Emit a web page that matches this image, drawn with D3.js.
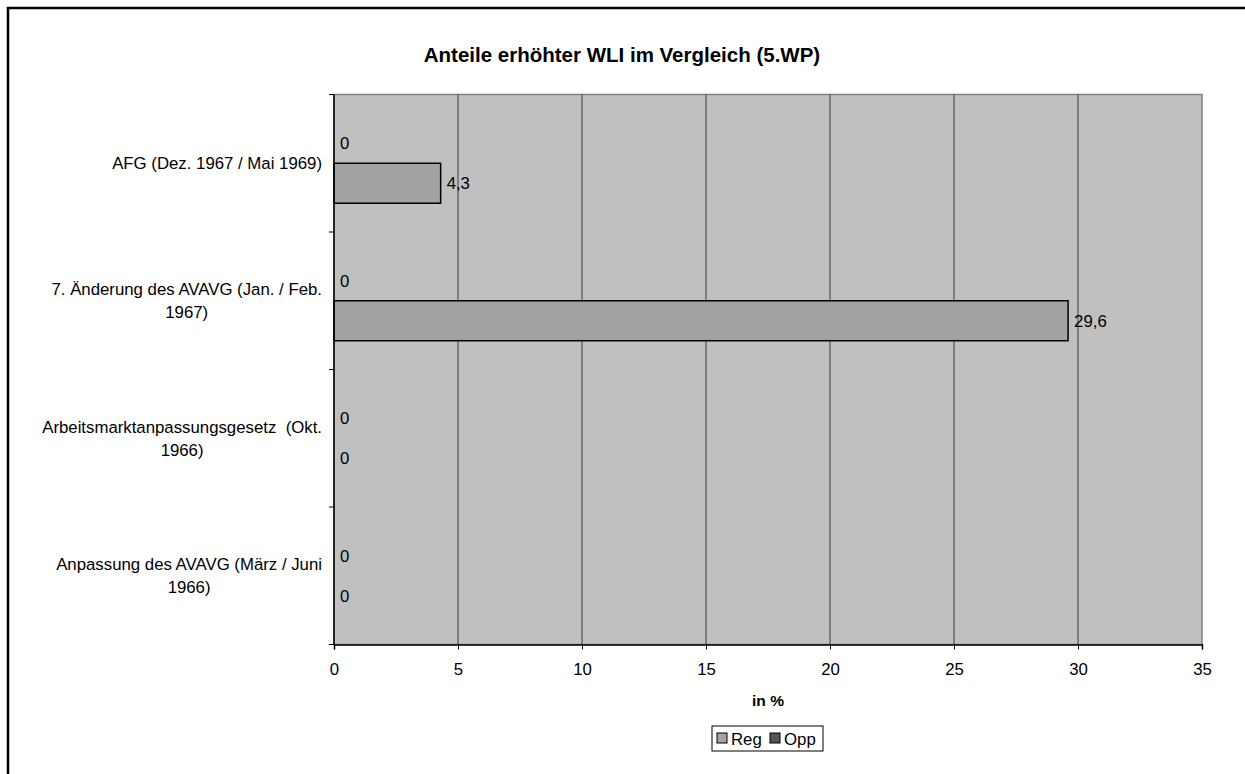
<!DOCTYPE html>
<html>
<head>
<meta charset="utf-8">
<script src="https://cdn.jsdelivr.net/npm/d3@7"></script>
<style>
  html, body { margin: 0; padding: 0; background: #fff; }
  svg { display: block; font-family: "Liberation Sans", Arial, sans-serif; }
</style>
</head>
<body>
<svg id="chart" width="1245" height="774"></svg>
<script>
const categories = [
  "AFG (Dez. 1967 / Mai 1969)",
  "7. Änderung des AVAVG (Jan. / Feb.\n1967)",
  "Arbeitsmarktanpassungsgesetz  (Okt.\n1966)",
  "Anpassung des AVAVG (März / Juni\n1966)"
];
const seriesNames = ["Reg", "Opp"];
const regValues = [4.3, 29.6, 0, 0];
const oppValues = [0, 0, 0, 0];
const xTicks = [0, 5, 10, 15, 20, 25, 30, 35];
const titleText = "Anteile erhöhter WLI im Vergleich (5.WP)";
const xAxisTitle = "in %";

const colors = { Reg: "#a3a3a3", Opp: "#555555" };

const svg = d3.select("#chart");
const plot = { left: 334, right: 1202, top: 94.5, bottom: 644.5 };
const fs = 16.8;

// outer chart frame
svg.append("rect")
  .attr("x", 8).attr("y", 8).attr("width", 1300).attr("height", 900)
  .attr("fill", "#fff").attr("stroke", "#000").attr("stroke-width", 2.5);

// title
svg.append("text")
  .attr("x", 622).attr("y", 62)
  .attr("text-anchor", "middle")
  .attr("font-size", 20.5).attr("font-weight", "bold")
  .text(titleText);

const x = d3.scaleLinear().domain([0, 35]).range([plot.left, plot.right]);
const y = d3.scaleBand().domain(categories).range([plot.top, plot.bottom]).padding(0);
const ys = d3.scaleBand().domain(["Opp", "Reg"]).range([0, y.bandwidth()]).paddingOuter(0.72).paddingInner(0);

// plot background
svg.append("rect")
  .attr("x", plot.left).attr("y", plot.top)
  .attr("width", plot.right - plot.left).attr("height", plot.bottom - plot.top)
  .attr("fill", "#c0c0c0").attr("stroke", "#808080").attr("stroke-width", 1.5);

// gridlines
svg.append("g").selectAll("line")
  .data(xTicks.filter(t => t > 0 && t < 35))
  .join("line")
  .attr("x1", d => x(d)).attr("x2", d => x(d))
  .attr("y1", plot.top).attr("y2", plot.bottom)
  .attr("stroke", "#3c3c3c").attr("stroke-width", 1);

// bars
const rows = categories.map((c, i) => ({ cat: c, Reg: regValues[i], Opp: oppValues[i] }));
const barData = [];
rows.forEach(r => seriesNames.forEach(s => barData.push({ cat: r.cat, s, v: r[s] })));

svg.append("g").selectAll("rect")
  .data(barData.filter(d => d.v > 0))
  .join("rect")
  .attr("x", x(0))
  .attr("y", d => y(d.cat) + ys(d.s))
  .attr("width", d => x(d.v) - x(0))
  .attr("height", ys.bandwidth())
  .attr("fill", d => colors[d.s])
  .attr("stroke", "#000").attr("stroke-width", 1.5);

// value labels
const fmt = v => String(v).replace(".", ",");
svg.append("g").selectAll("text")
  .data(barData)
  .join("text")
  .attr("x", d => x(d.v) + 6)
  .attr("y", d => y(d.cat) + ys(d.s) + ys.bandwidth() / 2)
  .attr("dy", "0.36em")
  .attr("font-size", fs)
  .text(d => fmt(d.v));

// x axis
const xAxis = d3.axisBottom(x).tickValues(xTicks).tickSize(5).tickPadding(14).tickFormat(d3.format("d"));
const gx = svg.append("g").attr("transform", `translate(0,${plot.bottom})`).call(xAxis);
gx.select(".domain").attr("stroke", "#000").attr("stroke-width", 1.5);
gx.selectAll(".tick line").attr("stroke", "#000");
gx.selectAll("text").attr("font-size", fs).attr("font-family", "Liberation Sans, Arial, sans-serif").attr("fill", "#000");

// y axis line and ticks at band boundaries
const yBounds = categories.map(c => y(c)).concat([plot.bottom]);
svg.append("line")
  .attr("x1", plot.left).attr("x2", plot.left)
  .attr("y1", plot.top).attr("y2", plot.bottom)
  .attr("stroke", "#000").attr("stroke-width", 1.5);
svg.append("g").selectAll("line")
  .data(yBounds)
  .join("line")
  .attr("x1", plot.left - 5).attr("x2", plot.left)
  .attr("y1", d => d).attr("y2", d => d)
  .attr("stroke", "#000").attr("stroke-width", 1);

// category labels (centered block, right edge at 322)
const lineH = 23;
categories.forEach(c => {
  const lines = c.split("\n");
  const cy = y(c) + y.bandwidth() / 2;
  const g = svg.append("g");
  const texts = lines.map((ln, i) => g.append("text")
    .attr("y", cy + (i - (lines.length - 1) / 2) * lineH)
    .attr("dy", "0.36em")
    .attr("font-size", fs)
    .attr("xml:space", "preserve")
    .style("white-space", "pre")
    .text(ln));
  const maxW = d3.max(texts, t => t.node().getComputedTextLength());
  texts.forEach(t => t.attr("text-anchor", "middle").attr("x", 322 - maxW / 2));
});

// x axis title
svg.append("text")
  .attr("x", (plot.left + plot.right) / 2).attr("y", 700)
  .attr("dy", "0.36em")
  .attr("text-anchor", "middle")
  .attr("font-size", 15.5).attr("font-weight", "bold")
  .text(xAxisTitle);

// legend
const lg = svg.append("g");
lg.append("rect").attr("x", 712).attr("y", 726).attr("width", 111).attr("height", 25)
  .attr("fill", "#fff").attr("stroke", "#000").attr("stroke-width", 1);
const legX = [717, 770];
seriesNames.forEach((s, i) => {
  lg.append("rect").attr("x", legX[i]).attr("y", 733).attr("width", 10).attr("height", 10)
    .attr("fill", colors[s]).attr("stroke", "#000").attr("stroke-width", 1);
  lg.append("text").attr("x", legX[i] + 14).attr("y", 738.5).attr("dy", "0.36em")
    .attr("font-size", fs).text(s);
});
</script>
</body>
</html>
